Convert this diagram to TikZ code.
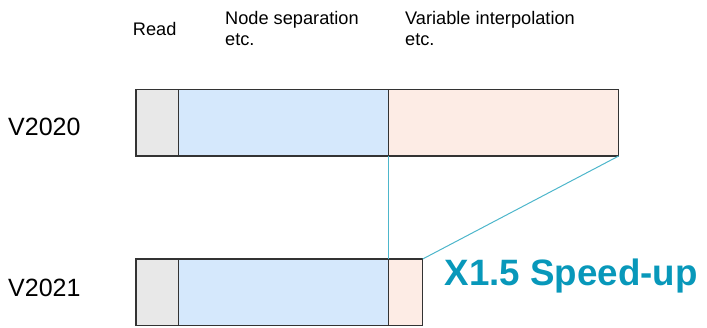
\documentclass[tikz,border=0pt]{standalone}
\usepackage{fontspec}
\setmainfont{Liberation Sans}
\definecolor{barline}{HTML}{333333}
\definecolor{readfill}{HTML}{E8E8E8}
\definecolor{sepfill}{HTML}{D5E8FC}
\definecolor{interpfill}{HTML}{FDECE5}
\definecolor{linkline}{HTML}{4DB6CB}
\definecolor{speedtext}{HTML}{0898BA}
\begin{document}
\begin{tikzpicture}[x=1pt,y=-1pt,
  seg/.style={draw=barline, line width=1.1pt, inner sep=0pt, outer sep=0pt, anchor=north west, minimum height=66.7pt},
  lbl/.style={inner sep=0pt, anchor=north west, align=left, font=\fontsize{18.2}{20.5}\selectfont},
  ver/.style={inner sep=0pt, anchor=base west, font=\fontsize{25}{30}\selectfont},
  link/.style={draw=linkline, line width=1pt}]
\useasboundingbox (0,0) rectangle (707,327);
% labels
\node[lbl] (lread) at (132.7,22.3) {Read};
\node[lbl] (lsep) at (225,11.4) {Node separation\\etc.};
\node[lbl] (linterp) at (405,11.4) {Variable interpolation\\etc.};
% version labels
\node[ver] (v20) at (8,135) {V2020};
\node[ver] (v21) at (8,296.5) {V2021};
% V2020 bar
\node[seg, fill=readfill, minimum width=42.7pt] (r1) at (136,89.3) {};
\node[seg, fill=sepfill, minimum width=210pt] (s1) at (178.7,89.3) {};
\node[seg, fill=interpfill, minimum width=230pt] (i1) at (388.7,89.3) {};
% V2021 bar
\node[seg, fill=readfill, minimum width=42.7pt] (r2) at (136,259) {};
\node[seg, fill=sepfill, minimum width=210pt] (s2) at (178.7,259) {};
\node[seg, fill=interpfill, minimum width=34pt] (i2) at (388.7,259) {};
% connectors
\draw[link] (s1.south east) -- (s2.north east);
\draw[link] (i1.south east) -- (i2.north east);
% speed-up
\node[inner sep=0pt, anchor=base west, text=speedtext, font=\fontsize{36.7}{40}\selectfont\bfseries] (speed) at (444.5,285.5) {X1.5 Speed-up};
\end{tikzpicture}
\end{document}
